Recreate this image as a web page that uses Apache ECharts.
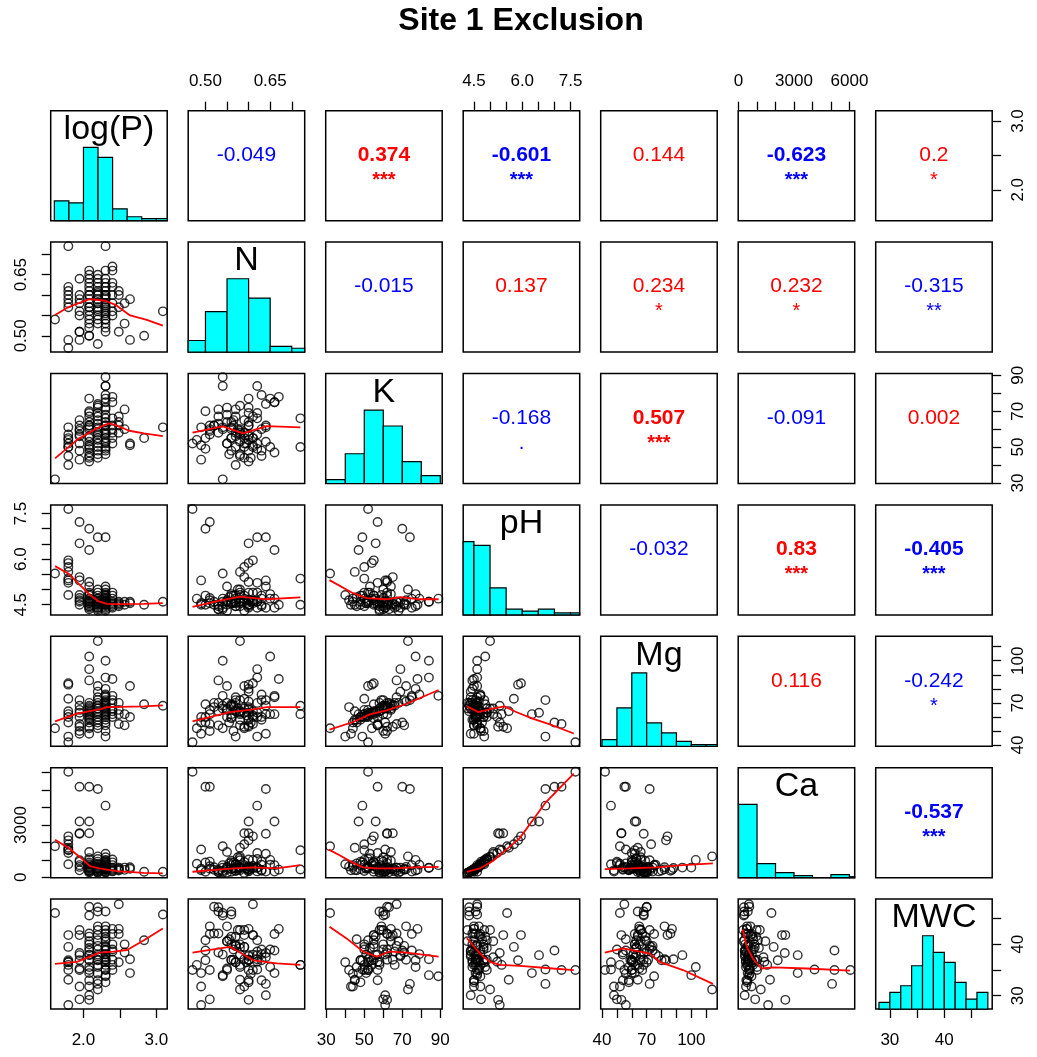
<!DOCTYPE html>
<html>
<head>
<meta charset="utf-8">
<script src="https://cdn.jsdelivr.net/npm/echarts@6/dist/echarts.min.js"></script>
<style>
html, body { margin: 0; padding: 0; background: #fff; }
#chart { width: 1037px; height: 1057px; }
</style>
</head>
<body>
<div id="chart"></div>
<script>
const FONT = '"Liberation Sans", Arial, Helvetica, sans-serif';
const chartTitle = 'Site 1 Exclusion';
const varNames = ['log(P)', 'N', 'K', 'pH', 'Mg', 'Ca', 'MWC'];

// one value per sample, samples grouped by log(P)
const logP = [1.609,
  1.792, 1.792, 1.792, 1.792, 1.792, 1.792, 1.792, 1.792, 1.792,
  1.946, 1.946, 1.946, 1.946, 1.946, 1.946, 1.946, 1.946, 1.946,
  2.079, 2.079, 2.079, 2.079, 2.079, 2.079, 2.079, 2.079, 2.079, 2.079, 2.079, 2.079, 2.079, 2.079, 2.079, 2.079, 2.079, 2.079, 2.079,
  2.197, 2.197, 2.197, 2.197, 2.197, 2.197, 2.197, 2.197, 2.197, 2.197, 2.197, 2.197, 2.197, 2.197, 2.197, 2.197, 2.197, 2.197,
  2.303, 2.303, 2.303, 2.303, 2.303, 2.303, 2.303, 2.303, 2.303, 2.303, 2.303, 2.303, 2.303, 2.303, 2.303, 2.303, 2.303, 2.303, 2.303, 2.303, 2.303, 2.303, 2.303, 2.303,
  2.398, 2.398, 2.398, 2.398, 2.398, 2.398, 2.398, 2.398,
  2.485, 2.485, 2.485, 2.485,
  2.565, 2.565,
  2.639, 2.639,
  2.833,
  3.091];
const N = [0.54,
  0.47, 0.61, 0.60, 0.59, 0.58, 0.72, 0.62, 0.49, 0.57,
  0.51, 0.60, 0.59, 0.64, 0.58, 0.51, 0.49, 0.56, 0.55,
  0.50, 0.66, 0.60, 0.55, 0.65, 0.62, 0.53, 0.52, 0.54, 0.57, 0.58, 0.61, 0.50, 0.63, 0.59, 0.64, 0.56, 0.57, 0.60,
  0.64, 0.58, 0.55, 0.60, 0.57, 0.53, 0.56, 0.59, 0.61, 0.62, 0.65, 0.63, 0.58, 0.605, 0.60, 0.54, 0.48, 0.565,
  0.62, 0.72, 0.54, 0.54, 0.62, 0.60, 0.63, 0.66, 0.57, 0.55, 0.56, 0.52, 0.575, 0.51, 0.53, 0.59, 0.64, 0.595, 0.61, 0.60, 0.555, 0.58, 0.565, 0.60,
  0.67, 0.66, 0.62, 0.60, 0.58, 0.56, 0.55, 0.63,
  0.61, 0.60, 0.51, 0.57,
  0.53, 0.58,
  0.59, 0.49,
  0.50,
  0.56];
const K = [32,
  52, 55, 54, 50, 45, 50, 57, 61, 40,
  57, 56, 65, 62, 59, 60, 43, 48, 52,
  70, 47, 62, 64, 77, 69, 67, 62, 60, 56, 53, 51, 49, 45, 44, 61, 55, 50, 42,
  74, 73, 72, 69, 67, 63, 60, 58, 55, 52, 50, 48, 46, 44, 57, 61, 54, 65,
  49, 66, 84, 89, 84, 77, 79, 75, 71, 68, 64, 62, 60, 59, 58, 55, 53, 52, 50, 48, 46, 57, 62, 72,
  78, 75, 66, 62, 58, 55, 52, 60,
  67, 64, 62, 58,
  71, 60,
  52, 51,
  55,
  61];
const pH = [5.53,
  7.65, 5.96, 5.87, 5.74, 5.58, 5.36, 5.22, 5.30, 4.82,
  7.22, 6.52, 5.41, 5.30, 4.82, 4.72, 4.50, 4.60, 4.65,
  7.00, 6.30, 5.25, 5.10, 4.85, 4.60, 4.45, 4.60, 4.35, 4.70, 4.90, 4.55, 4.80, 4.50, 4.70, 4.40, 4.55, 4.45, 4.65,
  6.72, 5.00, 4.50, 4.40, 4.60, 4.35, 4.55, 4.30, 4.65, 4.90, 4.70, 4.80, 4.45, 4.60, 4.50, 4.40, 4.70, 4.55,
  6.72, 4.50, 4.60, 4.70, 4.60, 4.45, 4.70, 4.40, 4.55, 4.30, 4.85, 4.50, 5.00, 4.65, 4.35, 4.80, 5.10, 4.55, 4.90, 4.50, 4.75, 4.60, 4.80, 4.65,
  4.50, 4.70, 4.40, 4.90, 4.55, 4.80, 4.60, 4.45,
  4.60, 4.50, 4.55, 4.45,
  4.50, 4.60,
  4.60, 4.55,
  4.50,
  4.60];
const Mg = [52,
  42, 84, 83, 73, 64, 62, 60, 56, 46,
  55, 63, 53, 68, 72, 50, 48, 60, 65,
  56, 62, 53, 66, 103, 94, 86, 70, 68, 64, 63, 61, 60, 58, 52, 48, 59, 65, 67,
  72, 114, 82, 78, 74, 70, 68, 66, 64, 63, 62, 60, 58, 56, 54, 66, 52, 68,
  46, 68, 100, 75, 88, 80, 76, 74, 72, 70, 69, 67, 66, 65, 64, 63, 62, 61, 60, 58, 56, 54, 50, 71,
  87, 75, 70, 66, 64, 62, 60, 72,
  55, 65, 62, 70,
  54, 62,
  82, 60,
  69,
  68];
const Ca = [1780,
  6050, 2350, 2120, 1900, 1700, 1550, 1400, 1600, 750,
  5190, 3200, 2530, 2500, 980, 900, 400, 700, 600,
  5190, 3200, 2530, 1450, 1000, 560, 380, 580, 280, 760, 1100, 520, 850, 420, 700, 330, 480, 360, 620,
  5060, 1200, 460, 340, 560, 290, 500, 250, 650, 1050, 720, 900, 400, 600, 480, 360, 780, 520,
  4110, 450, 560, 700, 540, 390, 720, 330, 490, 260, 950, 430, 1150, 640, 300, 880, 1350, 520, 1000, 470, 800, 580, 820, 600,
  440, 700, 340, 1020, 500, 860, 560, 380,
  560, 450, 500, 390,
  430, 560,
  580, 490,
  320,
  320];
const MWC = [46.1,
  35.0, 41.8, 36.9, 39.5, 33.1, 36.0, 36.6, 28.2, 36.5,
  35.0, 37.9, 41.8, 38.3, 42.8, 29.3, 31.8, 36.9, 35.3,
  38.8, 34.4, 29.2, 40.6, 35.6, 37.9, 42.1, 47.3, 45.6, 41.5, 39.3, 38.0, 36.9, 33.0, 31.8, 30.1, 37.0, 40.0, 35.0,
  32.3, 31.2, 43.5, 37.7, 39.7, 47.2, 46.4, 42.8, 41.8, 40.8, 39.0, 36.9, 35.6, 34.3, 33.0, 38.0, 36.0, 37.0,
  35.1, 36.0, 34.0, 33.8, 37.1, 36.9, 38.1, 38.8, 39.7, 40.6, 41.5, 42.1, 42.8, 43.5, 46.4, 39.5, 37.5, 36.5, 35.0, 32.6, 41.0, 38.0, 39.0, 37.0,
  43.0, 42.0, 38.6, 37.0, 36.0, 40.0, 35.0, 39.0,
  47.8, 43.0, 42.0, 36.5,
  38.4, 40.0,
  37.1, 34.4,
  40.8,
  45.8];

// axis ranges (R pads each data range by 4%)
const axisRanges = [[1.550, 3.150], [0.46, 0.73], [29.7, 91.0], [4.166, 7.784], [39.1, 117.4], [-20, 6285], [27.4, 48.8]];
const tickValues = [
  [2.0, 2.5, 3.0],
  [0.50, 0.55, 0.60, 0.65, 0.70],
  [30, 40, 50, 60, 70, 80, 90],
  [4.5, 5.0, 5.5, 6.0, 6.5, 7.0, 7.5],
  [40, 50, 60, 70, 80, 90, 100, 110],
  [0, 1000, 2000, 3000, 4000, 5000, 6000],
  [30, 35, 40, 45]];
const tickLabels = [[2.0, 3.0], [0.50, 0.65], [30, 50, 70, 90], [4.5, 6.0, 7.5], [40, 70, 100], [0, 3000, 6000], [30, 40]];
const leftCaLabels = [0, 3000];
const labelDecimals = [1, 2, 0, 1, 0, 0, 0];

// histogram breaks and counts on the diagonal
const histBreaks = [
  [1.6, 1.8, 2.0, 2.2, 2.4, 2.6, 2.8, 3.0, 3.2],
  [0.45, 0.50, 0.55, 0.60, 0.65, 0.70, 0.75],
  [30, 40, 50, 60, 70, 80, 90],
  [4.0, 4.5, 5.0, 5.5, 6.0, 6.5, 7.0, 7.5, 8.0],
  [40, 50, 60, 70, 80, 90, 100, 110, 120],
  [0, 1000, 2000, 3000, 4000, 5000, 6000, 7000],
  [28, 30, 32, 34, 36, 38, 40, 42, 44, 46, 48]];
const histCounts = [
  [10, 9, 37, 32, 6, 2, 1, 1],
  [6, 21, 38, 28, 3, 2],
  [2, 15, 37, 29, 11, 4],
  [38, 36, 14, 3, 2, 3, 1, 1],
  [4, 23, 44, 14, 8, 3, 1, 1],
  [73, 14, 5, 2, 0, 3, 1],
  [2, 5, 7, 13, 22, 17, 14, 8, 3, 5]];

// smoothed fits (red lines), [x, y] in data units
const fitN_logP = [[1.61, 0.551], [1.79, 0.570], [2.08, 0.590], [2.30, 0.586], [2.44, 0.576], [2.64, 0.550], [2.87, 0.539], [3.09, 0.525]];
const fitK_logP = [[1.61, 43.7], [1.92, 54.3], [2.18, 60.4], [2.35, 63.2], [2.44, 62.2], [2.63, 59.1], [2.83, 57.6], [3.09, 56.1]];
const fitPH_logP = [[1.61, 5.77], [1.79, 5.53], [1.95, 5.15], [2.09, 4.82], [2.21, 4.61], [2.32, 4.53], [2.50, 4.52], [2.83, 4.53], [3.09, 4.55]];
const fitMg_logP = [[1.61, 56.9], [1.91, 62.3], [2.25, 65.8], [2.32, 67.0], [2.83, 67.5], [3.09, 68.2]];
const fitCa_logP = [[1.61, 2160], [1.79, 1700], [1.95, 1170], [2.09, 640], [2.22, 510], [2.45, 360], [2.83, 260], [3.09, 230]];
const fitMWC_logP = [[1.61, 36.2], [1.91, 36.6], [2.09, 37.6], [2.22, 38.4], [2.41, 38.6], [2.60, 38.9], [2.83, 40.8], [3.09, 43.1]];
const fitK_N = [[0.47, 58.0], [0.54, 61.5], [0.587, 57.6], [0.642, 61.7], [0.72, 61.0]];
const fitPH_N = [[0.47, 4.43], [0.525, 4.61], [0.58, 4.77], [0.642, 4.68], [0.72, 4.74]];
const fitMg_N = [[0.47, 56.9], [0.557, 63.5], [0.611, 65.4], [0.642, 67.0], [0.72, 67.0]];
const fitCa_N = [[0.47, 320], [0.565, 510], [0.611, 570], [0.665, 510], [0.72, 700]];
const fitMWC_N = [[0.47, 38.4], [0.518, 39.0], [0.557, 39.5], [0.58, 38.4], [0.611, 36.9], [0.665, 36.3], [0.72, 36.0]];
const fitPH_K = [[31.7, 5.31], [44.1, 4.88], [51.2, 4.72], [61.8, 4.68], [68.8, 4.75], [79.4, 4.68], [89.1, 4.68]];
const fitMg_K = [[31.7, 51.0], [44.1, 56.4], [53.0, 61.8], [61.8, 64.6], [72.4, 69.4], [89.1, 79.2]];
const fitCa_K = [[31.4, 1590], [37.0, 1270], [44.1, 830], [49.4, 570], [56.5, 510], [65.3, 510], [75.9, 570], [89.1, 600]];
const fitMWC_K = [[31.7, 43.4], [40.5, 41.2], [49.4, 38.6], [56.5, 37.6], [63.5, 38.6], [72.4, 38.4], [89.1, 37.6]];
const fitMg_PH = [[4.28, 67.5], [4.63, 63.5], [5.04, 65.8], [5.45, 67.5], [5.81, 63.5], [6.32, 58.8], [6.93, 54.1], [7.6, 48.2]];
const fitCa_PH = [[4.28, 320], [4.68, 510], [5.09, 940], [5.5, 1590], [5.91, 2220], [6.32, 3260], [6.73, 4300], [7.6, 5940]];
const fitMWC_PH = [[4.28, 41.2], [4.59, 38.9], [4.79, 37.6], [5.0, 36.6], [5.31, 36.0], [5.93, 35.8], [6.95, 35.3], [7.6, 35.0]];
const fitCa_Mg = [[41.8, 470], [58.6, 510], [76.5, 570], [94.4, 700], [114.5, 800]];
const fitMWC_Mg = [[41.8, 38.4], [54.1, 39.2], [65.3, 38.6], [72.0, 38.2], [78.7, 36.6], [94.4, 35.0], [114.5, 32.3]];
const fitMWC_Ca = [[220, 42.9], [440, 39.5], [800, 37.1], [1250, 35.3], [1890, 35.5], [3710, 35.3], [6030, 34.9]];

// correlations for the upper panels, row by row
const corrValues = [-0.049, 0.374, -0.601, 0.144, -0.623, 0.2,
  -0.015, 0.137, 0.234, 0.232, -0.315,
  -0.168, 0.507, -0.091, 0.002,
  -0.032, 0.83, -0.405,
  0.116, -0.242,
  -0.537];
const corrStars = ['', '***', '***', '', '***', '*',
  '', '', '*', '*', '**',
  '.', '***', '', '',
  '', '***', '***',
  '', '*',
  '***'];

const vars = [logP, N, K, pH, Mg, Ca, MWC];
const fits = {
  '1,0': fitN_logP, '2,0': fitK_logP, '3,0': fitPH_logP, '4,0': fitMg_logP, '5,0': fitCa_logP, '6,0': fitMWC_logP,
  '2,1': fitK_N, '3,1': fitPH_N, '4,1': fitMg_N, '5,1': fitCa_N, '6,1': fitMWC_N,
  '3,2': fitPH_K, '4,2': fitMg_K, '5,2': fitCa_K, '6,2': fitMWC_K,
  '4,3': fitMg_PH, '5,3': fitCa_PH, '6,3': fitMWC_PH,
  '5,4': fitCa_Mg, '6,4': fitMWC_Mg,
  '6,5': fitMWC_Ca
};

const L0 = 50.7, T0 = 110.7, STEP_X = 137.5, STEP_Y = 131.4, PW = 116.5, PH = 110;
const n = varNames.length;

function axisStyle(v, show, labels, margin, rotate) {
  return {
    show: show,
    splitLine: { show: false },
    axisLine: { show: false },
    axisTick: { show: true, inside: false, length: 9, customValues: tickValues[v], lineStyle: { color: '#000', width: 1.3 } },
    axisLabel: {
      customValues: labels || tickLabels[v],
      formatter: (val) => Number(val).toFixed(labelDecimals[v]),
      fontSize: 17, color: '#000', fontFamily: FONT, margin: margin, rotate: rotate || 0
    }
  };
}

const grids = [], xAxes = [], yAxes = [], series = [], graphics = [];

graphics.push({
  type: 'text', x: 521, y: 21,
  style: { text: chartTitle, font: 'bold 32px ' + FONT, fill: '#000', align: 'center', verticalAlign: 'middle' }
});

let corrIdx = 0;
for (let r = 0; r < n; r++) {
  for (let c = 0; c < n; c++) {
    const g = r * n + c;
    const left = L0 + c * STEP_X, top = T0 + r * STEP_Y;
    grids.push({ left: left, top: top, width: PW, height: PH, show: true, borderColor: '#000', borderWidth: 1.5, backgroundColor: 'transparent' });

    const topAxis = r === 0 && c % 2 === 1;
    const bottomAxis = r === n - 1 && c % 2 === 0;
    xAxes.push(Object.assign({
      gridIndex: g, type: 'value', min: axisRanges[c][0], max: axisRanges[c][1],
      position: topAxis ? 'top' : 'bottom'
    }, axisStyle(c, topAxis || bottomAxis, null, topAxis ? 21 : 23)));

    const leftAxis = c === 0 && r % 2 === 1;
    const rightAxis = c === n - 1 && r % 2 === 0;
    const yIdx = yAxes.length;
    if (r === c) {
      const maxCount = Math.max(...histCounts[r]);
      yAxes.push({ gridIndex: g, type: 'value', min: 0, max: maxCount * 1.5, show: false, splitLine: { show: false } });
      if (rightAxis) {
        yAxes.push(Object.assign({
          gridIndex: g, type: 'value', min: axisRanges[r][0], max: axisRanges[r][1], position: 'right'
        }, axisStyle(r, true, null, 17.5, 90)));
      }
      const bins = histCounts[r].map((cnt, i) => [histBreaks[r][i], histBreaks[r][i + 1], cnt]);
      series.push({
        type: 'custom', xAxisIndex: g, yAxisIndex: yIdx, data: bins, silent: true,
        renderItem: (params, api) => {
          const a = api.coord([api.value(0), 0]);
          const b = api.coord([api.value(1), api.value(2)]);
          const cs = params.coordSys;
          const shape = echarts.graphic.clipRectByRect(
            { x: a[0], y: b[1], width: b[0] - a[0], height: a[1] - b[1] },
            { x: cs.x, y: cs.y, width: cs.width, height: cs.height });
          if (!shape) return;
          return { type: 'rect', shape: shape, style: { fill: '#00FFFF', stroke: '#000', lineWidth: 1.2 } };
        }
      });
      graphics.push({
        type: 'text', x: left + PW / 2, y: top + 19,
        style: { text: varNames[r], font: '34px ' + FONT, fill: '#000', align: 'center', verticalAlign: 'middle' }
      });
    } else {
      yAxes.push(Object.assign({
        gridIndex: g, type: 'value', min: axisRanges[r][0], max: axisRanges[r][1],
        position: leftAxis ? 'left' : 'right'
      }, axisStyle(r, leftAxis || rightAxis, (leftAxis && r === 5) ? leftCaLabels : null, leftAxis ? 21 : 17.5, 90)));
    }

    if (r > c) {
      series.push({
        type: 'scatter', xAxisIndex: g, yAxisIndex: yIdx, silent: true,
        data: vars[c].map((x, i) => [x, vars[r][i]]),
        symbol: 'circle', symbolSize: 8.5,
        itemStyle: { color: 'rgba(0,0,0,0)', borderColor: '#000', borderWidth: 1.4 }
      });
      series.push({
        type: 'line', xAxisIndex: g, yAxisIndex: yIdx, silent: true, z: 3,
        data: fits[r + ',' + c], symbol: 'none', showSymbol: false,
        lineStyle: { color: '#FF0000', width: 1.8 }
      });
    } else if (r < c) {
      const v = corrValues[corrIdx], stars = corrStars[corrIdx];
      corrIdx++;
      const color = v > 0 ? '#FF0000' : '#0000FF';
      const weight = stars === '***' ? 'bold ' : '';
      const cx = left + PW / 2, cy = top + PH / 2;
      graphics.push({
        type: 'text', x: cx, y: cy - 10.4,
        style: { text: String(v), font: weight + '21px ' + FONT, fill: color, align: 'center', verticalAlign: 'middle' }
      });
      if (stars) {
        graphics.push({
          type: 'text', x: cx, y: cy + 14.8,
          style: { text: stars, font: weight + '20px ' + FONT, fill: color, align: 'center', verticalAlign: 'middle' }
        });
      }
    }
  }
}

const chart = echarts.init(document.getElementById('chart'));
chart.setOption({
  animation: false,
  backgroundColor: '#fff',
  grid: grids,
  xAxis: xAxes,
  yAxis: yAxes,
  series: series,
  graphic: graphics
});
</script>
</body>
</html>
